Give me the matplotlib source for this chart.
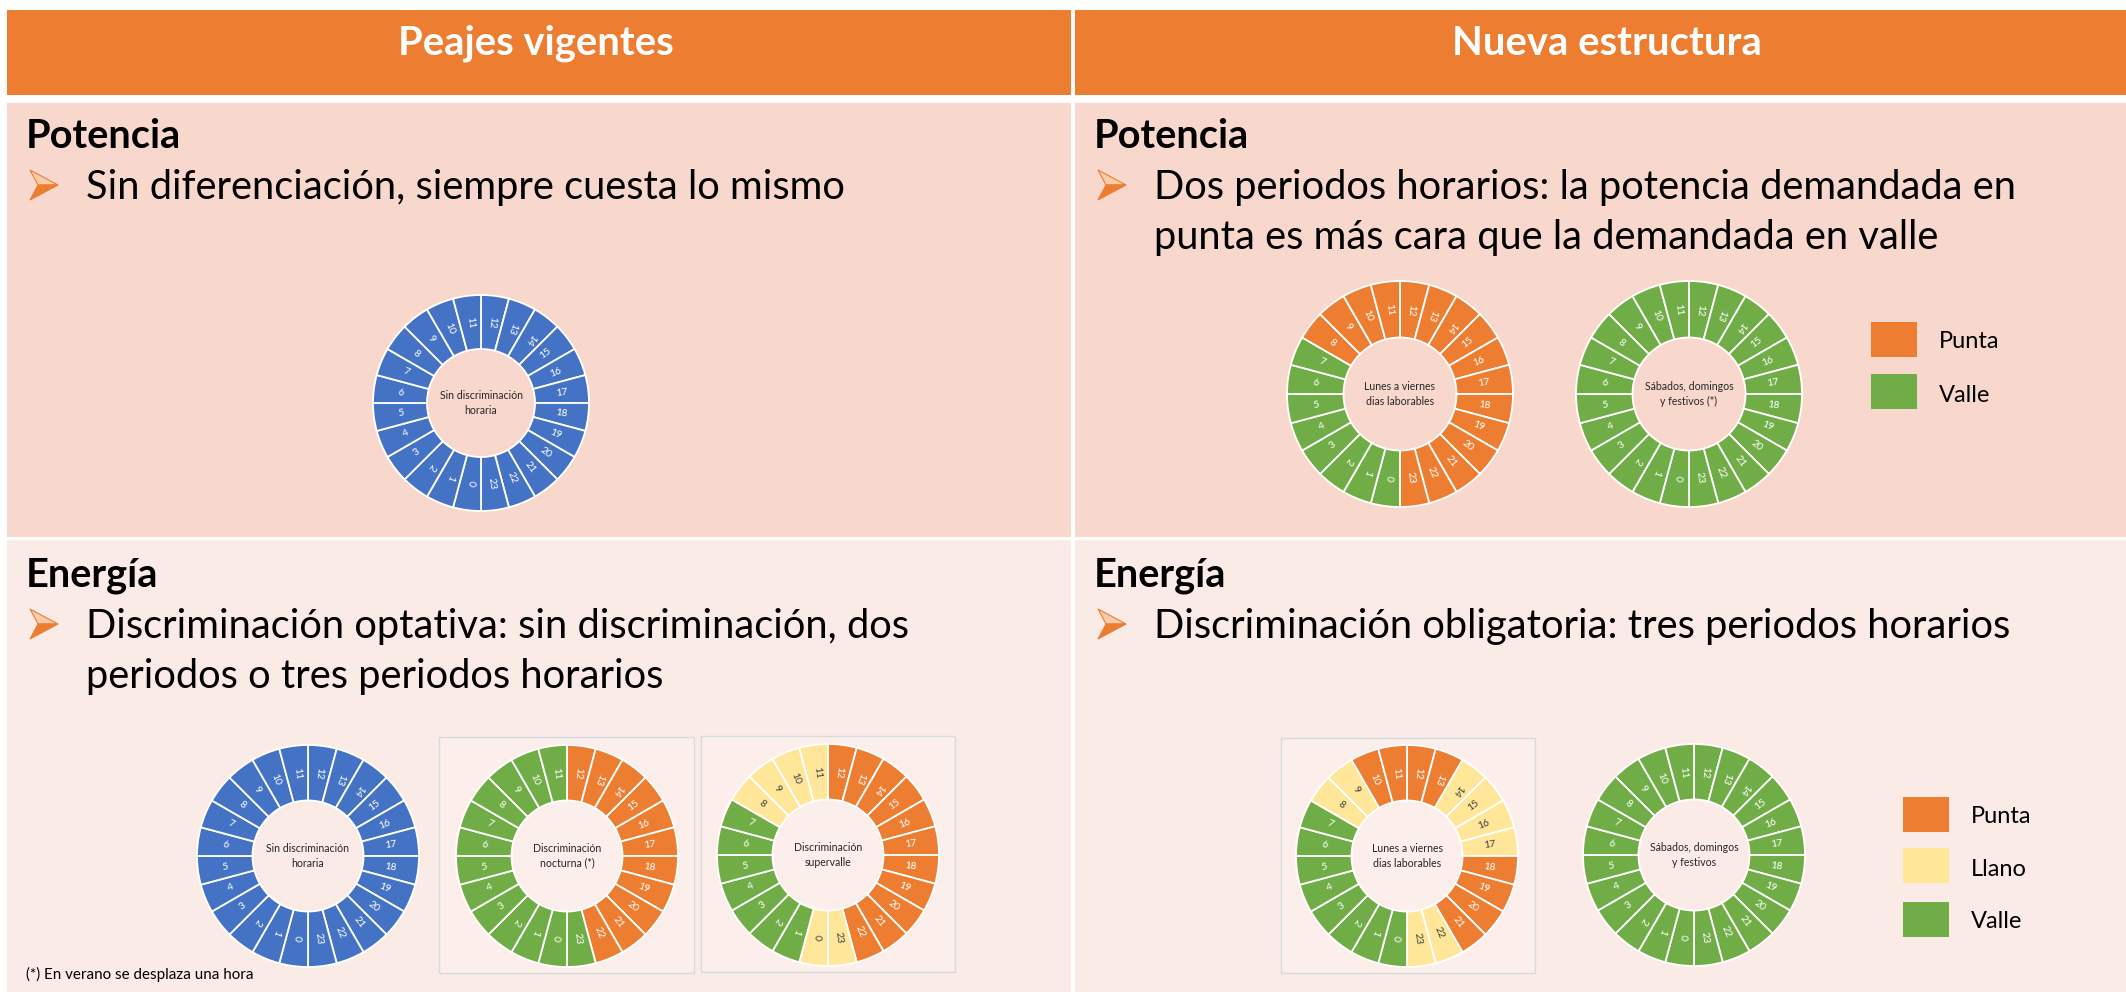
import numpy as np
import matplotlib
matplotlib.use("Agg")
import matplotlib.pyplot as plt
from matplotlib.patches import Rectangle, Polygon
from matplotlib.textpath import TextPath
from matplotlib.font_manager import FontProperties

W, H, DPI = 2126, 992, 100
FONT = "Lato"

# periodo de cada hora 0..23: P punta, L llano, V valle, U sin discriminacion
hours = list(range(24))
sin_discriminacion = list("UUUUUUUUUUUUUUUUUUUUUUUU")
potencia_laborable = list("VVVVVVVVPPPPPPPPPPPPPPPP")
potencia_festivo = list("VVVVVVVVVVVVVVVVVVVVVVVV")
nocturna = list("VVVVVVVVVVVVPPPPPPPPPPPV")
supervalle = list("LVVVVVVVLLLLPPPPPPPPPPPL")
energia_laborable = list("VVVVVVVVLLPPPPLLLLPPPPLL")
energia_festivo = list("VVVVVVVVVVVVVVVVVVVVVVVV")

headers = ["Peajes vigentes", "Nueva estructura"]
legend_potencia = ["Punta", "Valle"]
legend_energia = ["Punta", "Llano", "Valle"]

colors = {'P': '#ED7D31', 'L': '#FFE699', 'V': '#70AD47', 'U': '#4472C4'}
label_colors = {'P': 'white', 'L': '#404040', 'V': 'white', 'U': 'white'}
legend_codes = {'Punta': 'P', 'Llano': 'L', 'Valle': 'V'}


def fit_size(s, target_px, weight='normal'):
    # tamaño en puntos para que el texto ocupe target_px de ancho
    fp = FontProperties(family=FONT, weight=weight)
    w = TextPath((0, 0), s, size=100, prop=fp).get_extents().width
    return 100 * target_px / w * 72 / DPI


fs_header = fit_size("Nueva estructura", 304, 'bold')
fs_title = fit_size("Potencia", 150, 'bold')
fs_bullet = fit_size("Dos periodos horarios: la potencia demandada en", 857)
fs_legend = fit_size("Punta", 57)
fs_note = fit_size("(*) En verano se desplaza una hora", 225)
fs_center = fit_size("Sin discriminación", 82)

fig = plt.figure(figsize=(W / DPI, H / DPI), dpi=DPI)
fig.patch.set_facecolor('white')
ax = fig.add_axes([0, 0, 1, 1])
ax.set_xlim(0, W)
ax.set_ylim(H, 0)
ax.axis('off')

# tabla de fondo
top_bg, bottom_bg = '#F8D8CD', '#FBEBE7'
for x0, x1 in [(7, 1071), (1075, W)]:
    ax.add_patch(Rectangle((x0, 10), x1 - x0, 85, color='#ED7D31', lw=0))
    ax.add_patch(Rectangle((x0, 103), x1 - x0, 434, color=top_bg, lw=0))
    ax.add_patch(Rectangle((x0, 540), x1 - x0, H - 540, color=bottom_bg, lw=0))

for txt, xc in zip(headers, [536, 1607]):
    ax.text(xc, 55, txt, ha='center', va='baseline', color='white',
            fontsize=fs_header, fontweight='bold', family=FONT)


def bullet(x0, base):
    ax.add_patch(Polygon([(x0, base - 29), (x0 + 28, base - 14), (x0 + 8, base - 14)],
                         closed=True, fc='#F8CBAD', ec='#ED7D31', lw=0.8))
    ax.add_patch(Polygon([(x0 + 8, base - 14), (x0 + 28, base - 14), (x0, base + 1)],
                         closed=True, fc='#ED7D31', ec='#ED7D31', lw=0.8))


def block(x, y, title, lines):
    ax.text(x, y, title, fontsize=fs_title, fontweight='bold', family=FONT, va='baseline')
    bullet(x + 4, y + 51)
    for i, line in enumerate(lines):
        ax.text(x + 60, y + 51 + 50 * i, line, fontsize=fs_bullet, family=FONT, va='baseline')


block(26, 148, "Potencia", ["Sin diferenciación, siempre cuesta lo mismo"])
block(1094, 148, "Potencia", ["Dos periodos horarios: la potencia demandada en",
                              "punta es más cara que la demandada en valle"])
block(26, 587, "Energía", ["Discriminación optativa: sin discriminación, dos",
                           "periodos o tres periodos horarios"])
block(1094, 587, "Energía", ["Discriminación obligatoria: tres periodos horarios"])

ax.text(26, 979, "(*) En verano se desplaza una hora", fontsize=fs_note, family=FONT,
        va='baseline')

# marcos de las imagenes pegadas
for x0, y0, x1, y1 in [(439, 737, 694, 973), (701, 736, 955, 972), (1281, 738, 1535, 973)]:
    ax.add_patch(Rectangle((x0, y0), x1 - x0, y1 - y0, fc='#FCEEEB', ec='#D5DCDF', lw=1))

# leyendas
for names, x0, tops, bases in [(legend_potencia, 1871, [322, 374], [348, 402]),
                               (legend_energia, 1903, [797, 848, 902], [823, 876, 928])]:
    for name, t, b in zip(names, tops, bases):
        ax.add_patch(Rectangle((x0, t), 46, 35, color=colors[legend_codes[name]], lw=0))
        ax.text(x0 + 68, b, name, fontsize=fs_legend, family=FONT, va='baseline')


def donut(periods, label, cx, cy, R):
    pad = 1.02
    dax = fig.add_axes([(cx - R * pad) / W, 1 - (cy + R * pad) / H,
                        2 * R * pad / W, 2 * R * pad / H])
    order = hours[12:] + hours[:12]
    wedges, _ = dax.pie(np.ones(24), colors=[colors[periods[h]] for h in order],
                        startangle=90, counterclock=False,
                        wedgeprops=dict(width=0.5, edgecolor='white', linewidth=1.3))
    for w, h in zip(wedges, order):
        mid = (w.theta1 + w.theta2) / 2
        rot = ((mid + 135) % 180) - 135
        r = 0.75
        dax.text(r * np.cos(np.deg2rad(mid)), r * np.sin(np.deg2rad(mid)), str(h),
                 ha='center', va='center', rotation=rot, rotation_mode='anchor',
                 fontsize=7.5, color=label_colors[periods[h]], family=FONT)
    dax.text(0, 0, label, ha='center', va='center', fontsize=fs_center,
             color='#262626', family=FONT, linespacing=1.35)
    dax.set_xlim(-pad, pad)
    dax.set_ylim(-pad, pad)
    dax.axis('off')


donut(sin_discriminacion, "Sin discriminación\nhoraria", 481, 403, 108)
donut(potencia_laborable, "Lunes a viernes\ndias laborables", 1400, 394, 113)
donut(potencia_festivo, "Sábados, domingos\ny festivos (*)", 1689, 394, 113)
donut(sin_discriminacion, "Sin discriminación\nhoraria", 308, 856, 111)
donut(nocturna, "Discriminación\nnocturna (*)", 567, 856, 111)
donut(supervalle, "Discriminación\nsupervalle", 828, 855, 111)
donut(energia_laborable, "Lunes a viernes\ndias laborables", 1407, 856, 111)
donut(energia_festivo, "Sábados, domingos\ny festivos", 1694, 855, 111)

fig.savefig("out.png", dpi=DPI)
